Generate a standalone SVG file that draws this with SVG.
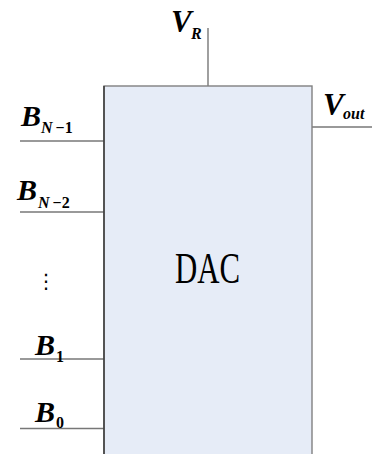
<svg xmlns="http://www.w3.org/2000/svg" width="372" height="454" viewBox="0 0 372 454">
<style>
.lbl{font-family:"Liberation Serif","Times New Roman",serif;font-weight:bold;font-style:italic;fill:#000}
.up{font-style:normal}
.wire{stroke:#777;stroke-width:1.4;fill:none}
</style>
<rect width="372" height="454" fill="#fff"/>
<g id="connectors">
<line class="wire" x1="208" y1="28" x2="208" y2="86"/>
<line class="wire" x1="312" y1="127" x2="372" y2="127"/>
<line class="wire" x1="20" y1="141" x2="104" y2="141"/>
<line class="wire" x1="20" y1="212" x2="104" y2="212"/>
<line class="wire" x1="20" y1="359" x2="104" y2="359"/>
<line class="wire" x1="20" y1="428.5" x2="104" y2="428.5"/>
</g>
<g id="dac">
<rect x="104" y="86" width="208" height="380" fill="#E6ECF7" stroke="#808080" stroke-width="1.4"/>
<line x1="104" y1="86" x2="104" y2="454" stroke="#333" stroke-width="1.4"/>
<text x="207.5" y="283" font-family="Liberation Serif,serif" font-size="45" text-anchor="middle" textLength="65" lengthAdjust="spacingAndGlyphs" fill="#000">DAC</text>
</g>
<g id="vr"><text class="lbl" x="171" y="32" font-size="31">V<tspan font-size="16" x="191" y="39">R</tspan></text></g>
<g id="vout"><text class="lbl" x="323" y="115" font-size="31">V<tspan font-size="16" x="343" y="119">out</tspan></text></g>
<g id="bn1"><text class="lbl" x="21" y="126" font-size="30">B<tspan font-size="16" x="41" y="133">N</tspan><tspan class="up" font-size="16" dx="3">−1</tspan></text></g>
<g id="bn2"><text class="lbl" x="17" y="200" font-size="30">B<tspan font-size="16" x="38" y="208">N</tspan><tspan class="up" font-size="16" dx="3">−2</tspan></text></g>
<g id="dots"><text x="46" y="288" font-family="DejaVu Sans,sans-serif" font-size="20" text-anchor="middle" fill="#000">⋮</text></g>
<g id="b1"><text class="lbl" x="35" y="355" font-size="30">B<tspan class="up" font-size="16" x="56" y="362">1</tspan></text></g>
<g id="b0"><text class="lbl" x="35" y="422" font-size="30">B<tspan class="up" font-size="16" x="56" y="428">0</tspan></text></g>
</svg>
